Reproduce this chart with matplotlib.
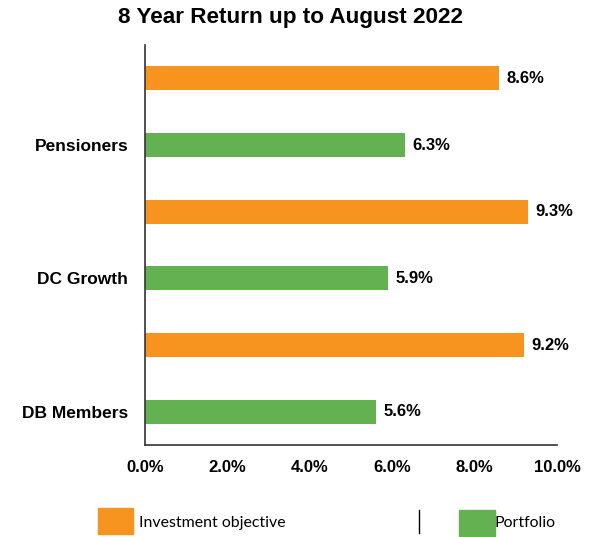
import matplotlib
matplotlib.use("Agg")
import matplotlib.pyplot as plt
from matplotlib.patches import Rectangle
from matplotlib.lines import Line2D

categories = ["DB Members", "DC Growth", "Pensioners"]
objective = [9.2, 9.3, 8.6]
portfolio = [5.6, 5.9, 6.3]
xticks = [0, 2, 4, 6, 8, 10]
xticklabels = ["0.0%", "2.0%", "4.0%", "6.0%", "8.0%", "10.0%"]
title = "8 Year Return up to August 2022"
legend_labels = ["Investment objective", "Portfolio"]

ORANGE = "#F79420"
GREEN = "#63B151"

plt.rcParams['font.family'] = ['Liberation Sans', 'DejaVu Sans']

fig = plt.figure(figsize=(6.0, 5.37), dpi=100)
ax = fig.add_axes([145/600, 1-445/537, 412/600, 400/537])

h = 0.36
for i, (o, p) in enumerate(zip(objective, portfolio)):
    yg = 2*i
    yo = 2*i + 1
    ax.barh(yo, o, height=h, color=ORANGE)
    ax.barh(yg, p, height=h, color=GREEN)
    ax.text(o + 0.18, yo, f"{o:.1f}%", va='center', ha='left', fontsize=12, fontweight='bold')
    ax.text(p + 0.18, yg, f"{p:.1f}%", va='center', ha='left', fontsize=12, fontweight='bold')

ax.set_xlim(0, 10)
ax.set_ylim(-0.5, 5.5)
ax.set_xticks(xticks)
ax.set_xticklabels(xticklabels, fontsize=12, fontweight='bold')
ax.set_yticks([2*i for i in range(len(categories))])
ax.set_yticklabels(categories, fontsize=12.5, fontweight='bold')
ax.tick_params(axis='both', length=0)
ax.tick_params(axis='x', pad=11)
ax.tick_params(axis='y', pad=12)
for s in ['top', 'right']:
    ax.spines[s].set_visible(False)
for s in ['left', 'bottom']:
    ax.spines[s].set_color('#333333')
    ax.spines[s].set_linewidth(1.2)

fig.text(290/600, 1-18/537, title, ha='center', va='center', fontsize=16.2, fontweight='bold')

# legend
fig.add_artist(Rectangle((98/600, 1-534/537), 35/600, 26/537, transform=fig.transFigure, color=ORANGE))
fig.text(139/600, 1-523/537, legend_labels[0], ha='left', va='center', fontsize=11.4, family='Lato')
fig.add_artist(Line2D([419/600, 419/600], [1-533/537, 1-510/537], transform=fig.transFigure, color='black', lw=1))
fig.add_artist(Rectangle((459/600, 1-536/537), 36/600, 26/537, transform=fig.transFigure, color=GREEN))
fig.text(494/600, 1-523/537, legend_labels[1], ha='left', va='center', fontsize=11.4, family='Lato')

fig.savefig("out.png", dpi=100)
